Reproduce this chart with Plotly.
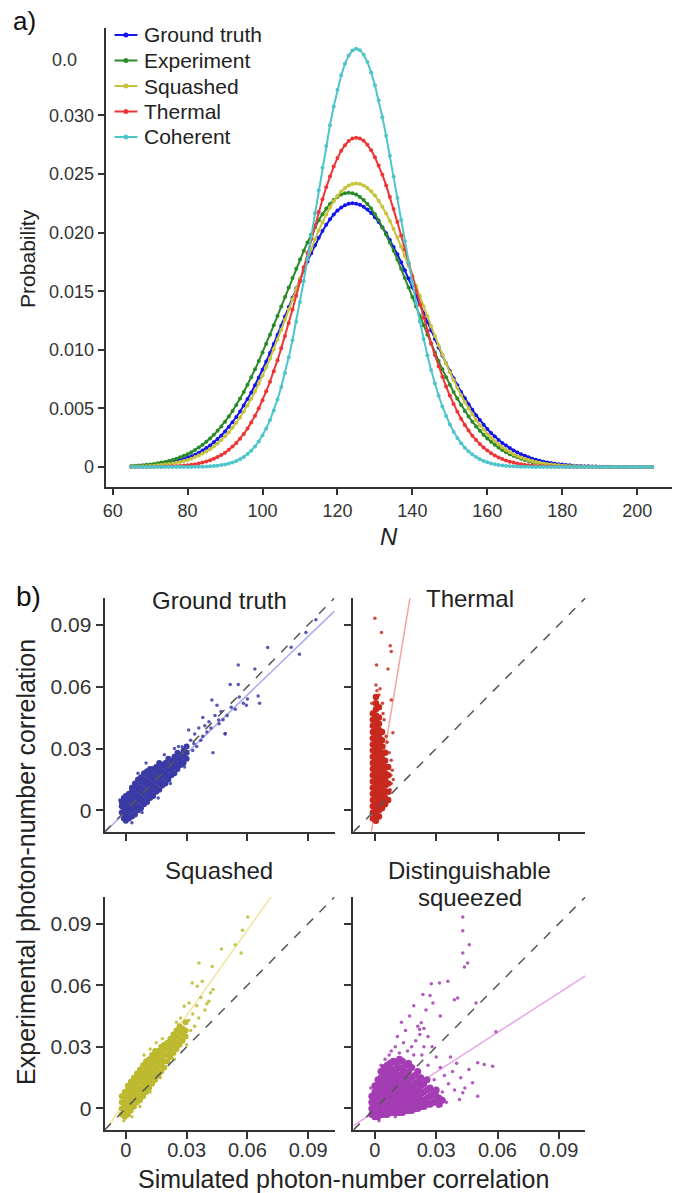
import plotly.graph_objects as go

# ---------------- panel a) data : photon-number distributions ----------------
N = list(range(65, 205))

ground_truth = [
    0.00005, 0.00007, 0.00008, 0.00010, 0.00012, 0.00014, 0.00017, 0.00021, 0.00025, 0.00030,
    0.00035, 0.00042, 0.00049, 0.00058, 0.00068, 0.00079, 0.00092, 0.00106, 0.00123, 0.00141,
    0.00162, 0.00185, 0.00211, 0.00239, 0.00270, 0.00304, 0.00342, 0.00383, 0.00427, 0.00474,
    0.00525, 0.00580, 0.00637, 0.00699, 0.00763, 0.00831, 0.00901, 0.00974, 0.01049, 0.01126,
    0.01205, 0.01285, 0.01365, 0.01445, 0.01525, 0.01603, 0.01680, 0.01754, 0.01825, 0.01893,
    0.01956, 0.02014, 0.02067, 0.02114, 0.02155, 0.02189, 0.02215, 0.02234, 0.02246, 0.02250,
    0.02247, 0.02237, 0.02220, 0.02197, 0.02168, 0.02132, 0.02091, 0.02045, 0.01994, 0.01938,
    0.01878, 0.01815, 0.01748, 0.01679, 0.01608, 0.01535, 0.01461, 0.01387, 0.01312, 0.01238,
    0.01165, 0.01092, 0.01021, 0.00952, 0.00885, 0.00820, 0.00758, 0.00698, 0.00641, 0.00587,
    0.00536, 0.00488, 0.00443, 0.00401, 0.00361, 0.00325, 0.00291, 0.00261, 0.00232, 0.00206,
    0.00183, 0.00162, 0.00142, 0.00125, 0.00109, 0.00096, 0.00083, 0.00072, 0.00062, 0.00054,
    0.00046, 0.00040, 0.00034, 0.00029, 0.00025, 0.00021, 0.00018, 0.00015, 0.00012, 0.00010,
    0.00009, 0.00007, 0.00006, 0.00005, 0.00004, 0.00003, 0.00003, 0.00002, 0.00002, 0.00001,
    0.00001, 0.00001, 0.00001, 0.00001, 0.00001, 0.00001, 0.00000, 0.00000, 0.00000, 0.00000,
]

experiment = [
    0.00009, 0.00011, 0.00013, 0.00016, 0.00019, 0.00023, 0.00027, 0.00032, 0.00038, 0.00044,
    0.00052, 0.00061, 0.00071, 0.00083, 0.00096, 0.00110, 0.00127, 0.00146, 0.00167, 0.00190,
    0.00216, 0.00244, 0.00275, 0.00309, 0.00347, 0.00387, 0.00431, 0.00479, 0.00529, 0.00584,
    0.00641, 0.00702, 0.00766, 0.00834, 0.00904, 0.00977, 0.01052, 0.01130, 0.01209, 0.01289,
    0.01370, 0.01452, 0.01533, 0.01614, 0.01693, 0.01770, 0.01845, 0.01916, 0.01984, 0.02047,
    0.02105, 0.02158, 0.02205, 0.02245, 0.02279, 0.02305, 0.02325, 0.02336, 0.02340, 0.02336,
    0.02325, 0.02305, 0.02279, 0.02245, 0.02205, 0.02158, 0.02105, 0.02047, 0.01984, 0.01916,
    0.01845, 0.01770, 0.01693, 0.01614, 0.01533, 0.01452, 0.01370, 0.01289, 0.01209, 0.01130,
    0.01052, 0.00977, 0.00904, 0.00834, 0.00766, 0.00702, 0.00641, 0.00584, 0.00529, 0.00479,
    0.00431, 0.00387, 0.00347, 0.00309, 0.00275, 0.00244, 0.00216, 0.00190, 0.00167, 0.00146,
    0.00127, 0.00110, 0.00096, 0.00083, 0.00071, 0.00061, 0.00052, 0.00044, 0.00038, 0.00032,
    0.00027, 0.00023, 0.00019, 0.00016, 0.00013, 0.00011, 0.00009, 0.00007, 0.00006, 0.00005,
    0.00004, 0.00003, 0.00003, 0.00002, 0.00002, 0.00001, 0.00001, 0.00001, 0.00001, 0.00001,
    0.00000, 0.00000, 0.00000, 0.00000, 0.00000, 0.00000, 0.00000, 0.00000, 0.00000, 0.00000,
]

squashed = [
    0.00004, 0.00004, 0.00005, 0.00007, 0.00008, 0.00010, 0.00012, 0.00015, 0.00018, 0.00022,
    0.00026, 0.00031, 0.00037, 0.00044, 0.00052, 0.00061, 0.00072, 0.00085, 0.00099, 0.00115,
    0.00133, 0.00153, 0.00176, 0.00202, 0.00230, 0.00262, 0.00297, 0.00335, 0.00378, 0.00423,
    0.00473, 0.00526, 0.00583, 0.00645, 0.00710, 0.00779, 0.00851, 0.00927, 0.01006, 0.01087,
    0.01171, 0.01257, 0.01344, 0.01432, 0.01521, 0.01609, 0.01696, 0.01781, 0.01863, 0.01943,
    0.02018, 0.02089, 0.02155, 0.02214, 0.02267, 0.02313, 0.02351, 0.02381, 0.02403, 0.02416,
    0.02420, 0.02416, 0.02403, 0.02382, 0.02353, 0.02316, 0.02272, 0.02221, 0.02164, 0.02100,
    0.02031, 0.01958, 0.01881, 0.01800, 0.01717, 0.01632, 0.01546, 0.01459, 0.01372, 0.01286,
    0.01201, 0.01118, 0.01037, 0.00959, 0.00883, 0.00810, 0.00741, 0.00675, 0.00613, 0.00555,
    0.00501, 0.00450, 0.00403, 0.00360, 0.00320, 0.00283, 0.00250, 0.00220, 0.00193, 0.00169,
    0.00147, 0.00128, 0.00110, 0.00095, 0.00082, 0.00070, 0.00060, 0.00051, 0.00043, 0.00036,
    0.00030, 0.00025, 0.00021, 0.00018, 0.00015, 0.00012, 0.00010, 0.00008, 0.00007, 0.00005,
    0.00004, 0.00004, 0.00003, 0.00002, 0.00002, 0.00001, 0.00001, 0.00001, 0.00000, 0.00000,
    0.00000, 0.00000, 0.00000, 0.00000, 0.00000, 0.00000, 0.00000, 0.00000, 0.00000, 0.00000,
]

thermal = [
    0.00000, 0.00000, 0.00001, 0.00001, 0.00001, 0.00001, 0.00002, 0.00002, 0.00003, 0.00004,
    0.00005, 0.00006, 0.00008, 0.00010, 0.00013, 0.00016, 0.00020, 0.00025, 0.00031, 0.00039,
    0.00047, 0.00058, 0.00071, 0.00085, 0.00103, 0.00123, 0.00147, 0.00175, 0.00206, 0.00242,
    0.00283, 0.00329, 0.00380, 0.00438, 0.00501, 0.00570, 0.00647, 0.00729, 0.00817, 0.00912,
    0.01013, 0.01119, 0.01230, 0.01345, 0.01462, 0.01583, 0.01704, 0.01826, 0.01946, 0.02064,
    0.02177, 0.02285, 0.02387, 0.02480, 0.02564, 0.02636, 0.02698, 0.02746, 0.02782, 0.02803,
    0.02810, 0.02803, 0.02783, 0.02749, 0.02702, 0.02643, 0.02573, 0.02493, 0.02403, 0.02305,
    0.02201, 0.02090, 0.01976, 0.01859, 0.01740, 0.01621, 0.01503, 0.01386, 0.01273, 0.01163,
    0.01057, 0.00956, 0.00860, 0.00771, 0.00687, 0.00610, 0.00538, 0.00473, 0.00413, 0.00359,
    0.00311, 0.00268, 0.00230, 0.00196, 0.00166, 0.00141, 0.00118, 0.00099, 0.00082, 0.00068,
    0.00056, 0.00046, 0.00038, 0.00031, 0.00025, 0.00020, 0.00016, 0.00013, 0.00010, 0.00008,
    0.00006, 0.00005, 0.00004, 0.00003, 0.00002, 0.00002, 0.00001, 0.00001, 0.00001, 0.00001,
    0.00000, 0.00000, 0.00000, 0.00000, 0.00000, 0.00000, 0.00000, 0.00000, 0.00000, 0.00000,
    0.00000, 0.00000, 0.00000, 0.00000, 0.00000, 0.00000, 0.00000, 0.00000, 0.00000, 0.00000,
]

coherent = [
    0.00000, 0.00000, 0.00000, 0.00000, 0.00000, 0.00000, 0.00000, 0.00000, 0.00000, 0.00000,
    0.00000, 0.00000, 0.00000, 0.00000, 0.00001, 0.00001, 0.00001, 0.00002, 0.00002, 0.00003,
    0.00005, 0.00007, 0.00009, 0.00012, 0.00017, 0.00023, 0.00030, 0.00040, 0.00052, 0.00067,
    0.00087, 0.00111, 0.00140, 0.00176, 0.00218, 0.00270, 0.00330, 0.00401, 0.00483, 0.00577,
    0.00684, 0.00803, 0.00936, 0.01082, 0.01240, 0.01409, 0.01588, 0.01776, 0.01969, 0.02165,
    0.02362, 0.02554, 0.02740, 0.02916, 0.03077, 0.03219, 0.03342, 0.03440, 0.03512, 0.03555,
    0.03570, 0.03557, 0.03518, 0.03455, 0.03367, 0.03258, 0.03130, 0.02985, 0.02826, 0.02656,
    0.02478, 0.02295, 0.02110, 0.01926, 0.01745, 0.01570, 0.01402, 0.01242, 0.01093, 0.00955,
    0.00828, 0.00713, 0.00609, 0.00517, 0.00436, 0.00364, 0.00302, 0.00249, 0.00204, 0.00165,
    0.00133, 0.00107, 0.00085, 0.00067, 0.00052, 0.00041, 0.00031, 0.00024, 0.00018, 0.00014,
    0.00010, 0.00008, 0.00006, 0.00004, 0.00003, 0.00002, 0.00002, 0.00001, 0.00001, 0.00001,
    0.00000, 0.00000, 0.00000, 0.00000, 0.00000, 0.00000, 0.00000, 0.00000, 0.00000, 0.00000,
    0.00000, 0.00000, 0.00000, 0.00000, 0.00000, 0.00000, 0.00000, 0.00000, 0.00000, 0.00000,
    0.00000, 0.00000, 0.00000, 0.00000, 0.00000, 0.00000, 0.00000, 0.00000, 0.00000, 0.00000,
]

curve_names = ["Ground truth", "Experiment", "Squashed", "Thermal", "Coherent"]
curve_colors = ["#1414f0", "#2a8a2a", "#c6c43a", "#ee3535", "#4ec5cb"]
curves = [ground_truth, experiment, squashed, thermal, coherent]
for c in curves:
    assert len(c) == len(N), len(c)

N_ticks = [60, 80, 100, 120, 140, 160, 180, 200]
prob_ticks = [0, 0.005, 0.010, 0.015, 0.020, 0.025, 0.030]
prob_ticktext = ["0", "0.005", "0.010", "0.015", "0.020", "0.025", "0.030"]

# ---------------- panel b) data : correlation scatter ----------------
# dense cores, read as columns (x, [y values])
gt_core_cols = [
    (-0.002, [-0.001, 0.002, 0.004]),
    (-0.001, [-0.004, -0.001, 0.001, 0.003, 0.006]),
    (0.0, [-0.005, -0.002, 0.0, 0.002, 0.004, 0.007]),
    (0.0015, [-0.004, -0.001, 0.001, 0.003, 0.005, 0.008]),
    (0.003, [-0.003, 0.0, 0.002, 0.004, 0.007, 0.009, 0.011]),
    (0.0045, [-0.002, 0.001, 0.003, 0.006, 0.008, 0.011, 0.013]),
    (0.006, [0.0, 0.002, 0.005, 0.007, 0.010, 0.012, 0.015]),
    (0.0075, [0.001, 0.004, 0.006, 0.009, 0.011, 0.014, 0.016]),
    (0.009, [0.003, 0.005, 0.008, 0.010, 0.013, 0.015, 0.018]),
    (0.0105, [0.004, 0.007, 0.009, 0.012, 0.014, 0.017, 0.019]),
    (0.012, [0.006, 0.008, 0.011, 0.013, 0.016, 0.018, 0.020]),
    (0.0135, [0.007, 0.010, 0.012, 0.015, 0.017, 0.020]),
    (0.015, [0.009, 0.011, 0.014, 0.016, 0.019, 0.021]),
    (0.0165, [0.010, 0.013, 0.015, 0.018, 0.020, 0.023]),
    (0.018, [0.012, 0.014, 0.017, 0.019, 0.022]),
    (0.0195, [0.013, 0.016, 0.018, 0.021, 0.023]),
    (0.021, [0.015, 0.017, 0.020, 0.022, 0.025]),
    (0.0225, [0.017, 0.019, 0.021, 0.024]),
    (0.024, [0.018, 0.021, 0.023, 0.026]),
    (0.0255, [0.020, 0.022, 0.025, 0.028]),
    (0.027, [0.022, 0.024, 0.027]),
    (0.0285, [0.023, 0.026, 0.029]),
    (0.030, [0.025, 0.028, 0.031]),
]
gt_sparse = [
    (0.032, 0.034), (0.033, 0.029), (0.034, 0.037), (0.035, 0.031), (0.036, 0.040),
    (0.037, 0.034), (0.038, 0.045), (0.038, 0.036), (0.039, 0.041), (0.040, 0.038),
    (0.041, 0.043), (0.042, 0.040), (0.0425, 0.0535), (0.043, 0.028), (0.044, 0.046),
    (0.045, 0.051), (0.046, 0.042), (0.047, 0.048), (0.048, 0.044), (0.049, 0.037),
    (0.050, 0.046), (0.0515, 0.061), (0.052, 0.050), (0.054, 0.049), (0.0555, 0.0705),
    (0.0555, 0.061), (0.056, 0.055), (0.058, 0.052), (0.0595, 0.051), (0.060, 0.054),
    (0.0637, 0.0686), (0.0653, 0.0555), (0.066, 0.052), (0.070, 0.079), (0.0816, 0.0791),
    (0.0857, 0.0757), (0.0889, 0.0863), (0.0938, 0.0924), (0.031, 0.039), (0.0336, 0.0324),
    (0.0278, 0.0308), (0.029, 0.021), (0.026, 0.031), (0.024, 0.030), (0.022, 0.013),
    (0.019, 0.027), (0.016, 0.006), (0.010, 0.023), (0.006, 0.018), (0.003, -0.006),
    (0.008, -0.001), (-0.003, 0.005), (0.0458, 0.0438), (0.049, 0.0373),
]

th_core_cols = [
    (-0.001, [-0.004, -0.001, 0.002, 0.005, 0.008, 0.011, 0.014, 0.017, 0.020, 0.023,
              0.026, 0.029, 0.032, 0.035, 0.038, 0.041, 0.044, 0.047]),
    (0.0005, [-0.005, -0.002, 0.001, 0.004, 0.007, 0.010, 0.013, 0.016, 0.019, 0.022,
              0.025, 0.028, 0.031, 0.034, 0.037, 0.040, 0.043, 0.046, 0.049, 0.052, 0.055]),
    (0.002, [-0.003, 0.0, 0.003, 0.006, 0.009, 0.012, 0.015, 0.018, 0.021, 0.024,
             0.027, 0.030, 0.033, 0.036, 0.039, 0.042, 0.045, 0.050]),
    (0.0035, [0.001, 0.004, 0.007, 0.010, 0.013, 0.016, 0.019, 0.022, 0.025, 0.028,
              0.031, 0.034, 0.038]),
    (0.005, [0.003, 0.006, 0.009, 0.012, 0.015, 0.018, 0.021, 0.024, 0.028]),
    (0.0065, [0.005, 0.009, 0.013, 0.017, 0.021]),
]
th_sparse = [
    (0.0, 0.0932), (0.0032, 0.0863), (0.0075, 0.0798), (0.008, 0.077), (0.0064, 0.0686),
    (0.0008, 0.0705), (0.0005, 0.0608), (0.008, 0.0535), (0.0037, 0.0519), (0.0088, 0.0376),
    (0.008, 0.0243), (0.0085, 0.0195), (0.008, 0.013), (0.0075, 0.010), (0.001, 0.058),
    (0.002, 0.056), (0.004, 0.047), (0.0045, 0.044), (0.006, 0.033), (0.007, 0.028),
    (0.0078, 0.017), (0.0055, 0.036), (0.0025, 0.059), (-0.0015, 0.052), (0.009, 0.015),
]

sq_core_cols = [
    (-0.002, [-0.003, 0.0, 0.003, 0.006]),
    (-0.0005, [-0.004, -0.001, 0.002, 0.005, 0.008]),
    (0.001, [-0.003, 0.0, 0.003, 0.006, 0.009, 0.011]),
    (0.0025, [-0.001, 0.002, 0.005, 0.008, 0.011, 0.013]),
    (0.004, [0.001, 0.004, 0.007, 0.010, 0.013, 0.015]),
    (0.0055, [0.003, 0.006, 0.009, 0.012, 0.015, 0.017]),
    (0.007, [0.004, 0.007, 0.010, 0.013, 0.016, 0.019]),
    (0.0085, [0.006, 0.009, 0.012, 0.015, 0.018, 0.021]),
    (0.010, [0.008, 0.011, 0.014, 0.017, 0.020, 0.023]),
    (0.0115, [0.010, 0.013, 0.016, 0.019, 0.022, 0.024]),
    (0.013, [0.012, 0.015, 0.018, 0.021, 0.024, 0.026]),
    (0.0145, [0.014, 0.017, 0.020, 0.023, 0.026, 0.028]),
    (0.016, [0.016, 0.019, 0.022, 0.025, 0.028]),
    (0.0175, [0.018, 0.021, 0.024, 0.027, 0.030]),
    (0.019, [0.020, 0.023, 0.026, 0.029, 0.031]),
    (0.0205, [0.023, 0.026, 0.029, 0.032]),
    (0.022, [0.025, 0.028, 0.031, 0.034]),
    (0.0235, [0.027, 0.030, 0.033, 0.036]),
    (0.025, [0.029, 0.032, 0.035, 0.038]),
    (0.0265, [0.031, 0.034, 0.037, 0.040]),
    (0.028, [0.033, 0.036, 0.039]),
    (0.0295, [0.035, 0.038, 0.042]),
]
sq_sparse = [
    (0.0602, 0.0932), (0.0576, 0.0868), (0.054, 0.0798), (0.0569, 0.0757), (0.0472, 0.0777),
    (0.0426, 0.0692), (0.0361, 0.0709), (0.0328, 0.0611), (0.0353, 0.0595), (0.0377, 0.062),
    (0.0418, 0.0563), (0.041, 0.0522), (0.0312, 0.0514), (0.0288, 0.0498), (0.033, 0.046),
    (0.035, 0.050), (0.037, 0.054), (0.039, 0.048), (0.031, 0.043), (0.034, 0.040),
    (0.036, 0.044), (0.040, 0.051), (0.043, 0.058), (0.027, 0.044), (0.025, 0.042),
    (0.018, 0.034), (0.015, 0.032), (0.012, 0.029), (0.009, 0.026), (0.007, 0.001),
    (0.012, 0.008), (0.017, 0.015), (-0.001, -0.006), (0.003, -0.004), (0.024, 0.024),
    (0.030, 0.031), (0.032, 0.038),
]

ds_core_cols = [
    (-0.0015, [-0.003, 0.0, 0.003, 0.006]),
    (0.0, [-0.004, -0.001, 0.002, 0.005, 0.008, 0.011]),
    (0.0015, [-0.004, -0.001, 0.002, 0.005, 0.008, 0.011, 0.014]),
    (0.003, [-0.003, 0.0, 0.003, 0.006, 0.009, 0.012, 0.015, 0.018]),
    (0.0045, [-0.003, 0.0, 0.003, 0.006, 0.009, 0.012, 0.015, 0.018, 0.020]),
    (0.006, [-0.003, 0.0, 0.003, 0.006, 0.009, 0.012, 0.015, 0.018, 0.021]),
    (0.0075, [-0.002, 0.001, 0.004, 0.007, 0.010, 0.013, 0.016, 0.019, 0.022]),
    (0.009, [-0.002, 0.001, 0.004, 0.007, 0.010, 0.013, 0.016, 0.019, 0.023]),
    (0.0105, [-0.002, 0.001, 0.004, 0.007, 0.010, 0.013, 0.016, 0.019, 0.022]),
    (0.012, [-0.002, 0.001, 0.004, 0.007, 0.010, 0.013, 0.016, 0.020, 0.024]),
    (0.0135, [-0.002, 0.001, 0.004, 0.007, 0.010, 0.013, 0.016, 0.019, 0.023]),
    (0.015, [-0.001, 0.002, 0.005, 0.008, 0.011, 0.014, 0.017, 0.021]),
    (0.0165, [-0.001, 0.002, 0.005, 0.008, 0.011, 0.014, 0.018, 0.022]),
    (0.018, [-0.001, 0.002, 0.005, 0.008, 0.011, 0.015, 0.020]),
    (0.0195, [0.0, 0.003, 0.006, 0.009, 0.012, 0.016]),
    (0.021, [0.0, 0.003, 0.006, 0.009, 0.013, 0.018]),
    (0.0225, [0.001, 0.004, 0.007, 0.011, 0.015]),
    (0.024, [0.001, 0.004, 0.008, 0.012]),
    (0.0255, [0.002, 0.005, 0.009, 0.014]),
    (0.027, [0.002, 0.006, 0.010]),
    (0.0285, [0.003, 0.007]),
    (0.030, [0.003, 0.006, 0.009]),
    (0.0315, [0.002, 0.005]),
    (0.033, [0.004]),
]
ds_sparse = [
    (0.043, 0.0932), (0.043, 0.0866), (0.0462, 0.0798), (0.043, 0.0757), (0.0454, 0.0709),
    (0.0438, 0.0689), (0.0357, 0.062), (0.0316, 0.0611), (0.0276, 0.0608), (0.0235, 0.0555),
    (0.0284, 0.0514), (0.0389, 0.053), (0.0405, 0.0538), (0.0495, 0.0514), (0.0227, 0.0417),
    (0.0219, 0.0384), (0.0535, 0.0214), (0.0576, 0.0206), (0.0592, 0.0374), (0.0503, 0.0222),
    (0.0478, 0.0125), (0.0503, 0.006), (0.043, 0.0076), (0.0414, 0.0044), (0.020, 0.033),
    (0.022, 0.036), (0.024, 0.039), (0.021, 0.040), (0.018, 0.030), (0.016, 0.028),
    (0.014, 0.032), (0.012, 0.027), (0.010, 0.030), (0.008, 0.028), (0.017, 0.045),
    (0.015, 0.038), (0.013, 0.042), (0.025, 0.048), (0.026, 0.035), (0.028, 0.030),
    (0.030, 0.025), (0.032, 0.020), (0.034, 0.016), (0.036, 0.012), (0.038, 0.018),
    (0.037, 0.025), (0.040, 0.022), (0.042, 0.015), (0.044, 0.010), (0.046, 0.019),
    (0.039, 0.009), (0.035, 0.003), (0.031, 0.001), (0.033, 0.008), (0.029, 0.014),
    (0.026, 0.021), (0.023, 0.026), (0.019, 0.026), (0.005, 0.024), (0.003, 0.021),
    (0.007, 0.026), (0.011, 0.035), (0.019, 0.050), (0.027, 0.055), (0.032, 0.045),
    (0.024, 0.030), (0.002, -0.006), (0.010, -0.004), (-0.002, 0.010),
]

panel_titles = ["Ground truth", "Thermal", "Squashed", "Distinguishable squeezed"]
panel_point_colors = ["#3b3ba6", "#c8291f", "#bdb92e", "#a43cb4"]
panel_fit_colors = ["#a9a9f2", "#f4a3a0", "#f2e39a", "#eaa6ea"]
fit_slopes = [0.945, 6.0, 1.39, 0.643]
fit_intercepts = [-0.0007, 0.0, 0.0035, -0.0016]
corr_ticks = [0, 0.03, 0.06, 0.09]
corr_ticktext = ["0", "0.03", "0.06", "0.09"]

panel_cores = [gt_core_cols, th_core_cols, sq_core_cols, ds_core_cols]
panel_sparse = [gt_sparse, th_sparse, sq_sparse, ds_sparse]
core_marker_sizes = [6, 6.5, 6, 7]

# ---------------- figure ----------------
W, H = 673, 1193
FONT = "Liberation Sans, Arial, Helvetica, sans-serif"
AX = "#333333"


def px(x):
    return x / W


def py(y):
    return 1 - y / H


fig = go.Figure()

for name, color, ys in zip(curve_names, curve_colors, curves):
    fig.add_trace(go.Scatter(
        x=N, y=ys, mode="lines+markers", name=name, showlegend=False,
        line=dict(color=color, width=2),
        marker=dict(size=4, color=color),
        xaxis="x", yaxis="y",
    ))

CORR_RANGE = [-0.0105, 0.103]
for k in range(4):
    ax_id = str(k + 2)
    col = panel_point_colors[k]
    # fitted line (drawn beneath the points)
    fit_x = CORR_RANGE
    fit_y = [fit_slopes[k] * v + fit_intercepts[k] for v in fit_x]
    fig.add_trace(go.Scatter(
        x=fit_x, y=fit_y, mode="lines", showlegend=False,
        line=dict(color=panel_fit_colors[k], width=1.5),
        xaxis="x" + ax_id, yaxis="y" + ax_id,
    ))
    cx, cy = [], []
    for x, ys in panel_cores[k]:
        for y in ys:
            cx.append(x)
            cy.append(y)
    fig.add_trace(go.Scatter(
        x=cx, y=cy, mode="markers", showlegend=False,
        marker=dict(size=core_marker_sizes[k], color=col, line=dict(width=0)),
        xaxis="x" + ax_id, yaxis="y" + ax_id,
    ))
    fig.add_trace(go.Scatter(
        x=[p[0] for p in panel_sparse[k]], y=[p[1] for p in panel_sparse[k]],
        mode="markers", showlegend=False,
        marker=dict(size=3.5, color=col, opacity=0.85, line=dict(width=0)),
        xaxis="x" + ax_id, yaxis="y" + ax_id,
    ))
    # y = x reference (drawn on top)
    fig.add_trace(go.Scatter(
        x=CORR_RANGE, y=CORR_RANGE, mode="lines", showlegend=False,
        line=dict(color="#555555", width=1.5, dash="dash"),
        xaxis="x" + ax_id, yaxis="y" + ax_id,
    ))

base_axis = dict(
    showline=True, linecolor=AX, linewidth=2,
    ticks="outside", ticklen=6, tickwidth=2, tickcolor=AX,
    showgrid=False, zeroline=False,
)

layout = dict(
    width=W, height=H, autosize=False,
    margin=dict(l=0, r=0, t=0, b=0),
    paper_bgcolor="white", plot_bgcolor="white",
    font=dict(family=FONT, color="#222222"),
    showlegend=False,
    xaxis=dict(base_axis, domain=[px(103), px(672)], range=[58.1, 209.3],
               tickvals=N_ticks, tickfont=dict(size=18, color=AX), anchor="y"),
    yaxis=dict(base_axis, domain=[py(487), py(28)], range=[-0.0017, 0.03746],
               tickvals=prob_ticks, ticktext=prob_ticktext,
               tickfont=dict(size=18, color=AX), anchor="x"),
)

col_domains = [[px(102), px(333)], [px(352), px(585)]]
row_domains = [[py(832), py(598)], [py(1130), py(897)]]
for k in range(4):
    r, c = divmod(k, 2)
    ax_id = str(k + 2)
    layout["xaxis" + ax_id] = dict(
        base_axis, domain=col_domains[c], range=CORR_RANGE, anchor="y" + ax_id,
        tickvals=corr_ticks, ticktext=corr_ticktext, ticklen=7,
        showticklabels=(r == 1), tickfont=dict(size=20, color=AX),
        ticklabelstandoff=-6,
    )
    layout["yaxis" + ax_id] = dict(
        base_axis, domain=row_domains[r], range=CORR_RANGE, anchor="x" + ax_id,
        tickvals=corr_ticks, ticktext=corr_ticktext, ticklen=7,
        showticklabels=(c == 0), tickfont=dict(size=21, color=AX),
    )

# legend of panel a), drawn as line + dot + label per series
shapes = []
legend_annots = []
for i, (name, color) in enumerate(zip(curve_names, curve_colors)):
    yc = 35 + i * 25.5
    shapes.append(dict(type="line", xref="paper", yref="paper",
                       x0=px(112), x1=px(135), y0=py(yc), y1=py(yc),
                       line=dict(color=color, width=2)))
    shapes.append(dict(type="circle", xref="paper", yref="paper",
                       x0=px(121), x1=px(126), y0=py(yc + 2.5), y1=py(yc - 2.5),
                       fillcolor=color, line=dict(color=color, width=0)))
    legend_annots.append(dict(text=name, x=px(140), y=py(yc), xanchor="left",
                              font=dict(size=21, color="#222")))
layout["shapes"] = shapes

fig.update_layout(**layout)

annots = [
    dict(text="a)", x=px(22), y=py(21), font=dict(size=26, color="#111")),
    dict(text="b)", x=px(26), y=py(596), font=dict(size=28, color="#111")),
    dict(text="Probability", x=px(25), y=py(258), textangle=-90,
         font=dict(size=21, color="#222")),
    dict(text="<i>N</i>", x=px(388), y=py(536), font=dict(size=24, color="#222")),
    dict(text="Ground truth", x=px(217), y=py(600), font=dict(size=24, color="#222")),
    dict(text="Thermal", x=px(469), y=py(598), font=dict(size=24, color="#222")),
    dict(text="Squashed", x=px(217), y=py(870), font=dict(size=24, color="#222")),
    dict(text="Distinguishable", x=px(469), y=py(870), font=dict(size=24, color="#222")),
    dict(text="squeezed", x=px(469), y=py(897), font=dict(size=24, color="#222")),
    dict(text="Experimental photon-number correlation", x=px(23), y=py(862),
         textangle=-90, font=dict(size=25, color="#222")),
    dict(text="Simulated photon-number correlation", x=px(342), y=py(1179),
         font=dict(size=25, color="#222")),
    # truncated "0.035" tick label as it appears in the original
    dict(text="0.0", x=px(47), y=py(60), xanchor="left",
         font=dict(size=18, color=AX)),
] + legend_annots
for a in annots:
    a.setdefault("xanchor", "center")
    fig.add_annotation(xref="paper", yref="paper", showarrow=False,
                       yanchor="middle", **a)

fig.write_html("out.html")
